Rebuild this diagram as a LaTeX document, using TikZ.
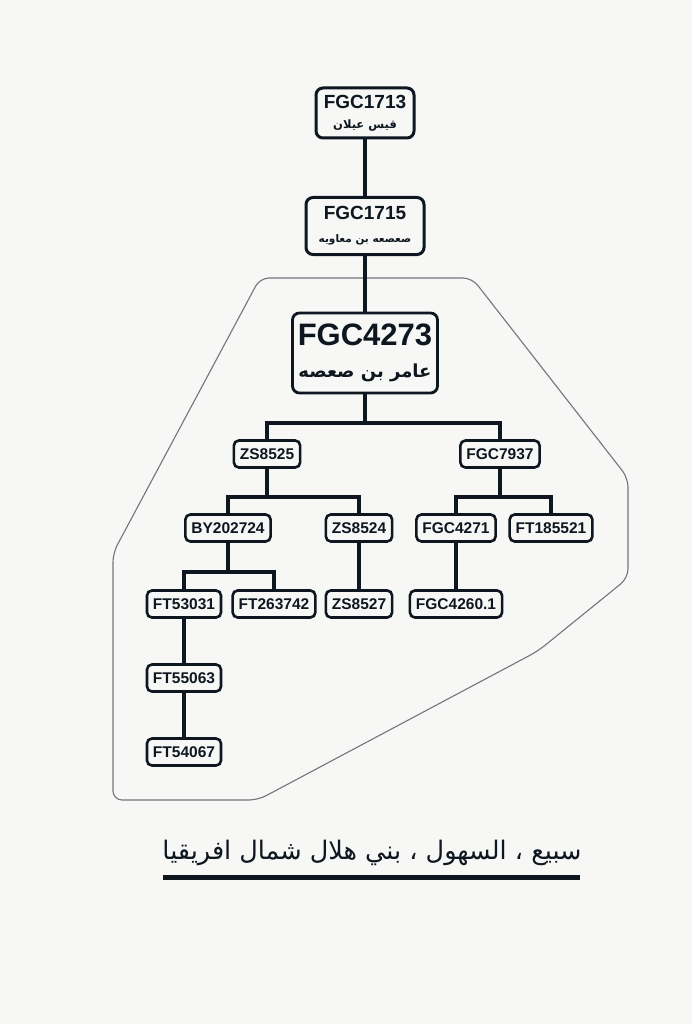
\documentclass[tikz,border=0pt]{standalone}
\usepackage{fontspec}
\setmainfont{Liberation Sans}
\newfontfamily\arabicfont[Script=Arabic]{DejaVu Sans}
\TeXXeTstate=1
\usetikzlibrary{calc}
\definecolor{bg}{HTML}{F7F7F5}
\definecolor{ink}{HTML}{0E1620}
\definecolor{outl}{HTML}{70767E}
\begin{document}
\begin{tikzpicture}[x=1pt,y=-1pt,
  box/.style={draw=ink, line width=2.6pt, rounded corners=5pt, fill=bg, text=ink,
    font=\fontsize{15.5}{18}\selectfont\bfseries, minimum height=27pt, inner xsep=6pt, inner ysep=2pt},
  topbox/.style={draw=ink, line width=3pt, rounded corners=7pt, fill=bg, text=ink,
    align=center, inner sep=2pt},
  conn/.style={draw=ink, line width=4.3pt},
  outline/.style={draw=outl, line width=1.1pt, rounded corners=9pt}]
\fill[bg] (0,0) rectangle (692,1024);
\useasboundingbox (0,0) rectangle (692,1024);
% outline region
\draw[outline] (260,278) -- (472,278) -- (628,478) -- (628,578) -- (538,651) -- (258,800) -- (113,800) -- (113,553) -- cycle;
% top nodes
\node[topbox, minimum width=98pt, minimum height=50pt] (n1713) at (365,113)
  {{\fontsize{19}{21}\selectfont\bfseries FGC1713}\\[8pt]{\arabicfont\bfseries\fontsize{11.5}{13}\selectfont\beginR قيس عيلان\endR}};
\node[topbox, minimum width=118pt, minimum height=57pt] (n1715) at (365,226)
  {{\fontsize{19}{21}\selectfont\bfseries FGC1715}\\[11pt]{\arabicfont\bfseries\fontsize{10.5}{12}\selectfont\beginR صعصعه بن معاويه\endR}};
\node[topbox, line width=2.8pt, minimum width=145pt, minimum height=80pt] (n4273) at (365,353)
  {{\fontsize{31}{33}\selectfont\bfseries FGC4273}\\[17pt]{\arabicfont\bfseries\fontsize{18}{20}\selectfont\beginR عامر بن صعصه\endR}};
% level nodes
\node[box] (zs8525) at (267,454) {ZS8525};
\node[box] (fgc7937) at (500,454) {FGC7937};
\node[box] (by202724) at (228,528) {BY202724};
\node[box] (zs8524) at (359,528) {ZS8524};
\node[box] (fgc4271) at (456,528) {FGC4271};
\node[box] (ft185521) at (551,528) {FT185521};
\node[box] (ft53031) at (184,604) {FT53031};
\node[box] (ft263742) at (274,604) {FT263742};
\node[box] (zs8527) at (359,604) {ZS8527};
\node[box] (fgc4260) at (456,604) {FGC4260.1};
\node[box] (ft55063) at (184,678) {FT55063};
\node[box] (ft54067) at (184,752) {FT54067};
% bar levels
\coordinate (barA) at (0,423);
\coordinate (barB) at (0,497);
\coordinate (barC) at (0,572);
% connectors
\draw[conn] (n1713.south) -- (n1715.north);
\draw[conn] (n1715.south) -- (n4273.north);
\draw[conn] (n4273.south) -- (n4273.south |- barA);
\draw[conn] (zs8525.north) |- (n4273.south |- barA) -| (fgc7937.north);
\draw[conn] (zs8525.south) -- (zs8525.south |- barB);
\draw[conn] (by202724.north) |- (zs8525.south |- barB) -| (zs8524.north);
\draw[conn] (fgc7937.south) -- (fgc7937.south |- barB);
\draw[conn] (fgc4271.north) |- (fgc7937.south |- barB) -| (ft185521.north);
\draw[conn] (by202724.south) -- (by202724.south |- barC);
\draw[conn] (ft53031.north) |- (by202724.south |- barC) -| (ft263742.north);
\draw[conn] (zs8524.south) -- (zs8527.north);
\draw[conn] (fgc4271.south) -- (fgc4260.north);
\draw[conn] (ft53031.south) -- (ft55063.north);
\draw[conn] (ft55063.south) -- (ft54067.north);
% caption
\node[text=ink, font=\arabicfont\fontsize{25.5}{29}\selectfont] (cap) at (372,853)
  {\beginR سبيع ، السهول ، بني هلال شمال افريقيا\endR};
\draw[ink, line width=5pt] (163,877) -- (580,877);
\end{tikzpicture}
\end{document}
